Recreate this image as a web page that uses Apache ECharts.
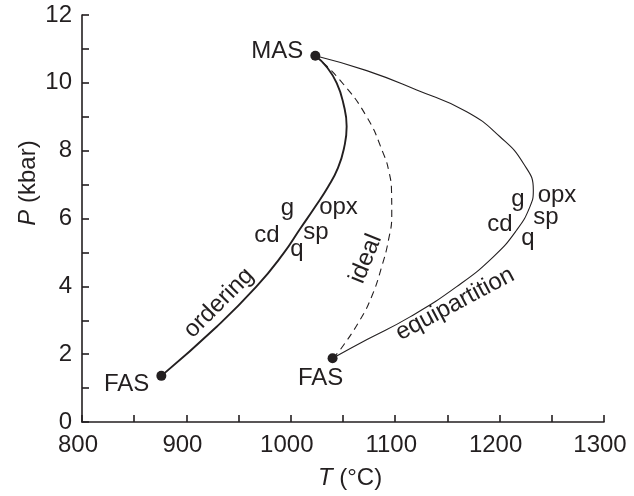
<!DOCTYPE html>
<html>
<head>
<meta charset="utf-8">
<title>P-T paths</title>
<script src="https://cdn.jsdelivr.net/npm/echarts@6/dist/echarts.min.js"></script>
<style>
html, body { margin: 0; padding: 0; background: #fff; }
#main { width: 634px; height: 496px; }
</style>
</head>
<body>
<div id="main"></div>
<script>
// ordering curve, FAS -> MAS
var orderT = [876, 929, 967, 993, 1008.8, 1023.2, 1035.6, 1045.2, 1051.0, 1053.5, 1050.3, 1044.0, 1034.4, 1023.5];
var orderP = [1.36, 2.81, 3.99, 4.97, 5.69, 6.34, 6.93, 7.49, 8.08, 8.71, 9.40, 9.99, 10.47, 10.8];
// ideal curve (dashed), FAS -> MAS
var idealT = [1040, 1047.1, 1066.3, 1077.5, 1087.1, 1093.6, 1096.7, 1096.5, 1094.1, 1088.6, 1072.7, 1047.1, 1023.5];
var idealP = [1.88, 2.12, 3.01, 3.70, 4.58, 5.37, 6.10, 6.78, 7.37, 7.92, 9.00, 10.08, 10.8];
// equipartition curve, FAS -> MAS
var equiT = [1040, 1073.0, 1114.2, 1158.9, 1194.0, 1216.4, 1229.1, 1232.3, 1222.7, 1200.4, 1168.5, 1120.6, 1072.7, 1023.5];
var equiP = [1.88, 2.43, 3.10, 3.99, 4.87, 5.66, 6.35, 6.84, 7.63, 8.41, 9.15, 9.79, 10.36, 10.8];
// end members
var endNames = ['MAS', 'FAS', 'FAS'];
var endT = [1023.5, 876, 1040];
var endP = [10.8, 1.36, 1.88];

// axis ticks
var xTicks = [800, 900, 1000, 1100, 1200, 1300];
var yTicks = [0, 2, 4, 6, 8, 10, 12];

// text on the plot: [text, T, P, rotation in degrees]
var notes = [
	['g', 996.8, 6.31, 0],
	['cd', 977.2, 5.51, 0],
	['q', 1005.9, 5.10, 0],
	['sp', 1024.1, 5.60, 0],
	['opx', 1045.7, 6.34, 0],
	['g', 1217.6, 6.57, 0],
	['opx', 1255, 6.69, 0],
	['cd', 1200.4, 5.84, 0],
	['sp', 1244.4, 6.04, 0],
	['q', 1227.2, 5.40, 0],
	['ordering', 931.2, 3.51, 45],
	['ideal', 1072, 4.81, 68],
	['equipartition', 1157.3, 3.48, 28]
];

var ink = '#231f20';
var font = 'Liberation Sans, Arial, Helvetica, sans-serif';
var fs = 24;

function pairs(xs, ys) {
	var out = [];
	for (var i = 0; i < xs.length; i++) {
		out.push([xs[i], ys[i]]);
	}
	return out;
}

//标签位置 MAS 左, FAS 左下, FAS 下
var endLabels = [
	{ position: 'left', distance: 7, offset: [0, -4] },
	{ position: 'left', distance: 7, offset: [0, 9] },
	{ position: 'bottom', distance: 3, offset: [-12, 0] }
];
var endData = [];
for (var i = 0; i < endNames.length; i++) {
	endData.push({
		name: endNames[i],
		value: [endT[i], endP[i]],
		label: endLabels[i]
	});
}

function axisBase() {
	return {
		type: 'value',
		axisLine: { show: true, onZero: false, lineStyle: { color: ink, width: 1.6 } },
		axisTick: { show: true, inside: true, length: 7, lineStyle: { color: ink, width: 1.6 } },
		minorTick: { show: true, splitNumber: 2, length: 7, lineStyle: { color: ink, width: 1.6 } },
		splitLine: { show: false },
		axisLabel: {
			color: ink,
			fontSize: fs,
			fontFamily: font,
			formatter: function(v) { return String(v); }
		}
	};
}

var xAxis = axisBase();
xAxis.min = xTicks[0];
xAxis.max = xTicks[xTicks.length - 1];
xAxis.interval = xTicks[1] - xTicks[0];
xAxis.axisLabel.margin = 11;
xAxis.axisLabel.padding = [0, 8, 0, 0];

var yAxis = axisBase();
yAxis.min = yTicks[0];
yAxis.max = yTicks[yTicks.length - 1];
yAxis.interval = yTicks[1] - yTicks[0];
yAxis.axisLabel.margin = 10;

var chart = echarts.init(document.getElementById('main'));
var option = {
	animation: false,
	backgroundColor: '#fff',
	grid: { left: 82, right: 30, top: 15, bottom: 74 },
	xAxis: xAxis,
	yAxis: yAxis,
	series: [{
		name: 'ordering',
		type: 'line',
		data: pairs(orderT, orderP),
		smooth: 0.5,
		showSymbol: false,
		lineStyle: { color: ink, width: 1.9 },
		z: 2
	}, {
		name: 'ideal',
		type: 'line',
		data: pairs(idealT, idealP),
		smooth: 0.5,
		showSymbol: false,
		lineStyle: { color: ink, width: 1.1, type: [7, 5] },
		z: 2
	}, {
		name: 'equipartition',
		type: 'line',
		data: pairs(equiT, equiP),
		smooth: 0.5,
		showSymbol: false,
		lineStyle: { color: ink, width: 1.1 },
		z: 2
	}, {
		name: 'ends',
		type: 'scatter',
		data: endData,
		symbolSize: 10,
		itemStyle: { color: ink, opacity: 1 },
		label: {
			show: true,
			formatter: '{b}',
			color: ink,
			opacity: 1,
			fontSize: fs,
			fontFamily: font
		},
		z: 3
	}]
};
chart.setOption(option);

//文字标注, 按数据坐标放置
var graphics = [];
for (var j = 0; j < notes.length; j++) {
	var pt = chart.convertToPixel({ gridIndex: 0 }, [notes[j][1], notes[j][2]]);
	graphics.push({
		type: 'text',
		x: pt[0],
		y: pt[1],
		rotation: notes[j][3] * Math.PI / 180,
		style: {
			text: notes[j][0],
			fill: ink,
			fontSize: fs,
			fontFamily: font,
			align: 'center',
			verticalAlign: 'middle'
		},
		z: 10
	});
}
// axis titles
graphics.push({
	type: 'text',
	x: 350,
	y: 478,
	style: {
		text: '{i|T} (°C)',
		fill: ink,
		fontSize: fs,
		fontFamily: font,
		align: 'center',
		verticalAlign: 'middle',
		rich: { i: { fontStyle: 'italic', fontSize: fs, fontFamily: font, fill: ink } }
	}
});
graphics.push({
	type: 'text',
	x: 28,
	y: 183,
	rotation: Math.PI / 2,
	style: {
		text: '{i|P} (kbar)',
		fill: ink,
		fontSize: fs,
		fontFamily: font,
		align: 'center',
		verticalAlign: 'middle',
		rich: { i: { fontStyle: 'italic', fontSize: fs, fontFamily: font, fill: ink } }
	}
});
chart.setOption({ graphic: graphics });
</script>
</body>
</html>
